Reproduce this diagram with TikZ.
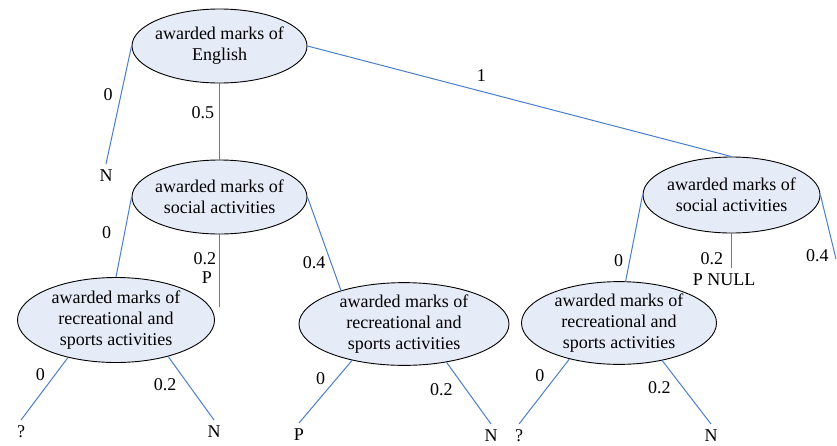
\documentclass[tikz,border=0pt]{standalone}
\usepackage{fontspec}
\setmainfont{Liberation Serif}
\usepackage{tikz}
\usetikzlibrary{shapes.geometric}
\definecolor{PaleBlue}{HTML}{E6ECF7}
\definecolor{LinkBlue}{HTML}{4A7EC8}

\begin{document}
\begin{tikzpicture}[x=1pt, y=-1pt,
    attr/.style={ellipse, draw=black, line width=0.9pt, fill=PaleBlue,
                 inner ysep=0pt, inner xsep=-3pt, align=center, font=\fontsize{18}{21}\selectfont},
    link/.style={draw=LinkBlue, line width=1pt},
    val/.style={inner sep=1pt, font=\fontsize{18}{21}\selectfont},
    leaf/.style={anchor=north, inner sep=1pt, text height=16pt, font=\fontsize{18}{21}\selectfont}]
  \useasboundingbox (0,0) rectangle (837,445);

  \node[attr, minimum width=175pt, minimum height=74pt] (eng)  at (219.5,46)  {awarded marks of\\English};
  \node[attr, minimum width=175pt, minimum height=74pt] (socl) at (219.5,197) {awarded marks of\\social activities};
  \node[attr, minimum width=177pt, minimum height=76pt] (socr) at (731.5,195) {awarded marks of\\social activities};
  \node[attr, minimum width=197pt, minimum height=85pt] (recl) at (116,320) {awarded marks of\\recreational and\\sports activities};
  \node[attr, minimum width=210pt, minimum height=82pt] (recm) at (404,324) {awarded marks of\\recreational and\\sports activities};
  \node[attr, minimum width=195pt, minimum height=82pt] (recr) at (619,323) {awarded marks of\\recreational and\\sports activities};

  \node[leaf] (n1) at (106,164) {N};
  \node[leaf] (q1) at (21,420) {?};
  \node[leaf] (n2) at (214,420) {N};
  \node[leaf] (p1) at (299,423) {P};
  \node[leaf] (n3) at (491,424) {N};
  \node[leaf] (q2) at (519,424) {?};
  \node[leaf] (n4) at (711,424) {N};
  \node[leaf] (pnull) at (724,268) {P NULL};
  \coordinate (sl2) at (219.5,307);
  \coordinate (sr4) at (836,259);

  \draw[link] (eng.west) -- node[val, pos=0.41, left=7pt] {0} (n1.north);
  \draw[link] (eng.south) -- node[val, pos=0.38, left=4pt] {0.5} (socl.north);
  \draw[link] (eng.east) -- node[val, pos=0.41, above=8pt] {1} (socr.north);

  \draw[link] (socl.west) -- node[val, pos=0.45, left=12pt] {0} (recl.north);
  \draw[link] (socl.south) -- node[val, pos=0.33, left=2pt] {0.2}
                             node[val, pos=0.6, left=6pt] {P} (sl2);
  \draw[link] (socl.east) -- node[val, pos=0.7, left=4pt] {0.4} (recm.152);

  \draw[link] (socr.west) -- node[val, pos=0.76, left=5pt] {0} (recr.81);
  \draw[link] (socr.south) -- node[val, pos=0.72, left=7pt] {0.2} (socr.south |- pnull.north);
  \draw[link] (socr.east) -- node[val, pos=0.95, left=5pt] {0.4} (sr4);

  \draw[link] (recl.218) -- node[val, pos=0.27, left=9pt] {0} (q1.north);
  \draw[link] (recl.325) -- node[val, pos=0.45, left=11pt] {0.2} (n2.north);
  \draw[link] (recm.215) -- node[val, pos=0.29, left=10pt] {0} (p1.north);
  \draw[link] (recm.318) -- node[val, pos=0.44, left=12pt] {0.2} (n3.north);
  \draw[link] (recr.216) -- node[val, pos=0.25, left=11pt] {0} (q2.north);
  \draw[link] (recr.319) -- node[val, pos=0.43, left=11pt] {0.2} (n4.north);
\end{tikzpicture}
\end{document}
